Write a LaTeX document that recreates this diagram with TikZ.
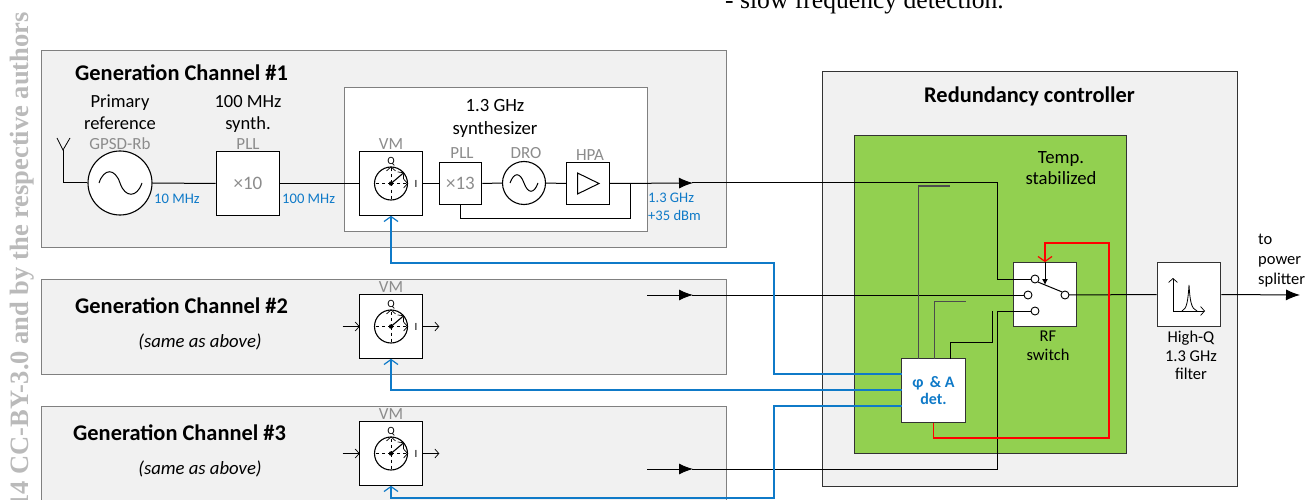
\documentclass[tikz,border=0pt]{standalone}
\usepackage{fontspec}
\setmainfont{Carlito}
\newfontfamily\serifmark{Liberation Serif}
\usetikzlibrary{arrows.meta}
\definecolor{panelgray}{HTML}{F1F1F1}
\definecolor{tempgreen}{HTML}{92D050}
\definecolor{linkblue}{HTML}{0F7AC8}
\definecolor{dimgray}{HTML}{8C8C8C}
\tikzset{
  panel/.style={draw=gray,fill=panelgray,line width=1pt},
  block/.style={draw=black,fill=white,line width=1.1pt,minimum size=63.5pt,inner sep=0pt},
  smallblock/.style={draw=black,fill=white,line width=1.1pt,minimum size=42.5pt,inner sep=0pt},
  tone/.style={circle,draw=black,fill=white,line width=1.1pt,inner sep=0pt},
  contact/.style={circle,draw=black,fill=white,line width=0.9pt,minimum size=8pt,inner sep=0pt},
  label/.style={font=\fontsize{18.7}{22}\selectfont,align=center,inner sep=0pt},
  dimlabel/.style={font=\fontsize{17}{20}\selectfont,text=dimgray,inner sep=0pt},
  freq/.style={font=\fontsize{14.6}{18}\selectfont,text=linkblue,align=left,inner sep=0pt},
  title/.style={font=\fontsize{22.4}{24}\selectfont\bfseries,inner sep=0pt},
  rf/.style={draw=black,line width=1pt},
  ctrl/.style={draw=linkblue,line width=1.4pt,-{Straight Barb[length=5pt,width=14pt,line width=1.2pt]}},
  feed/.style={draw=red,line width=1.4pt,-{Straight Barb[length=5pt,width=14pt,line width=1.2pt]}},
  head/.style={-{Latex[length=14pt,width=11pt]}},
  open/.style={-{Straight Barb[length=4pt,width=9pt,line width=0.7pt]}}
}
\begin{document}
\begin{tikzpicture}[x=1pt,y=-1pt]
  \clip (0,0) rectangle (1315,500);
  \fill[white] (0,0) rectangle (1315,500);

  % text cut off by the page
  \node[anchor=base west,inner sep=0pt,font=\serifmark\fontsize{25.6}{28}\selectfont] (sloweq) at (725,9) {- slow frequency detection.};
  \node[rotate=90,anchor=base east,inner sep=0pt,text=black!27,font=\serifmark\fontsize{26.5}{28}\selectfont\bfseries] (cc) at (28,12) {14 CC-BY-3.0 and by the respective authors};

  % channel panels
  \draw[panel] (41,51) rectangle (726,247);
  \draw[panel] (41,279) rectangle (726,374);
  \draw[panel] (41,406) rectangle (726,520);
  \draw[draw=gray,fill=white,line width=1pt] (344,88) rectangle (647,231);

  % redundancy controller
  \draw[fill=panelgray,draw=black!80,line width=1pt] (822,72) rectangle (1237,486);
  \draw[fill=tempgreen,draw=black!80,line width=1pt] (854,136) rectangle (1126,453);

  % channel 1 blocks
  \node[tone,minimum size=64pt] (ref) at (120,183) {};
  \node[block,text=dimgray,font=\fontsize{19}{24}\selectfont] (pll) at (248,183.5) {×10};
  \node[block] (vma) at (391,183.5) {};
  \node[smallblock,text=dimgray,font=\fontsize{19}{24}\selectfont] (mul) at (460.5,183.5) {×13};
  \node[tone,minimum size=43pt] (dro) at (524,183) {};
  \node[smallblock] (hpa) at (588,183.5) {};
  \node[block] (vmb) at (391,326.5) {};
  \node[block] (vmc) at (391,453.5) {};

  % switch, filter, detector
  \node[block,draw=black!80] (sw) at (1045,294.5) {};
  \node[block,draw=black!80] (filt) at (1189,294.5) {};
  \node[block,draw=black!80,align=center,text=linkblue,font=\fontsize{16}{17}\selectfont\bfseries] (det) at (933.5,390.5) {φ \,\& A\\det.};

  % free ends
  \coordinate (ant) at (63,150);
  \coordinate (tapa) at (630,183);
  \coordinate (outa) at (997,183);
  \coordinate (startb) at (647,295);
  \coordinate (startc) at (647,469);
  \coordinate (outc) at (997,469);
  \coordinate (out) at (1300,295);

  % signal path of channel 1
  \draw[rf] (ant)--(63,183)--(ref.west);
  \draw[rf,line width=0.8pt] (57,138)--(ant)--(70,138);
  \draw[rf] (ref.east)--(pll.west);
  \draw[rf] (pll.east)--(vma.west);
  \draw[rf] (vma.east)--(mul.west);
  \draw[rf] (mul.east)--(dro.west);
  \draw[rf] (dro.east)--(hpa.west);
  \draw[rf,head] (hpa.east)--(693,183);
  \draw[rf] (692,183)--(outa)--(997,279)--(1035,279);
  \draw[rf] (mul.south)--(460.5,218)--(630,218)--(tapa);

  % channels 2 and 3 into the switch
  \draw[rf,head] (startb)--(693,295);
  \draw[rf] (692,295)--(1028,295);
  \draw[rf,head] (startc)--(693,469);
  \draw[rf] (692,469)--(outc)--(997,311)--(1035,311);

  % output
  \draw[rf] (1065,295)--(filt.west);
  \draw[rf,head] (filt.east)--(out);

  % switch contacts
  \node[contact] (ca) at (1035,279) {};
  \node[contact] (cb) at (1028,295) {};
  \node[contact] (cc3) at (1035,311) {};
  \node[contact] (pole) at (1065,295) {};

  % inputs and outputs of VM 2 and 3
  \foreach \name in {vmb,vmc}{
    \draw[rf,open] (\name.west)++(-16,0)--++(17,0);
    \draw[rf,open] (\name.east)--++(16,0);
  }

  % VM dials
  \foreach \name in {vma,vmb,vmc}{
    \node[circle,draw=black,line width=1.1pt,minimum size=33pt,inner sep=0pt] (\name dial) at (\name) {};
    \draw[dashed,line width=0.7pt,open] (\name.center)--(\name dial.north);
    \draw[dashed,line width=0.7pt,open] (\name.center)--(\name dial.east);
    \draw[line width=1.1pt,open] (\name.center)--++(13,-11);
    \draw[line width=0.7pt,dashed] (\name.center)--(\name dial.south);
    \draw[line width=0.7pt,dashed] (\name.center)--(\name dial.west);
    \fill (\name.center) circle (2.2pt);
    \node[font=\fontsize{11}{12}\selectfont,inner sep=0pt] (\name q) at ([yshift=22pt]\name.center) {Q};
    \node[font=\fontsize{11}{12}\selectfont,inner sep=0pt] (\name i) at ([xshift=25pt]\name.center) {I};
  }

  % sine waves
  \draw[line width=1pt] (99,183) .. controls (104,168) and (115,168) .. (120,183) .. controls (125,198) and (137,198) .. (142,183);
  \draw[line width=1pt] (510,183) .. controls (514,172) and (520,172) .. (524,183) .. controls (528,194) and (534,194) .. (538,183);

  % amplifier and filter glyphs
  \draw[line width=1pt] (577.5,173)--(599,183.5)--(577.5,194)--cycle;
  \draw[open,line width=0.8pt] (1173,311)--(1173,278);
  \draw[open,line width=0.8pt] (1173,311)--(1205,311);
  \draw[line width=0.8pt] (1182,311) .. controls (1187,309) and (1188,300) .. (1189,285) .. controls (1190,300) and (1191,309) .. (1197,311);

  % switch arm and its control
  \draw[line width=1pt] (ca.south east)--(pole.north west);
  \draw[line width=1pt,-{Latex[length=6pt,width=6pt]}] (sw.north)--(1045,285);

  % couplers to the detector
  \draw[draw=black!70,line width=1pt] (918,359)--(918,186)--(950,186);
  \draw[draw=black!70,line width=1pt] (934,359)--(934,301)--(966,301);
  \draw[draw=black,line width=1pt] (950,359)--(950,342)--(992,342)--(992,311);

  % detector outputs
  \draw[ctrl] (902,374)--(774,374)--(774,263)--(391,263)--(vma.south);
  \draw[ctrl] (902,390)--(391,390)--(vmb.south);
  \draw[ctrl] (902,406)--(774,406)--(774,498)--(391,498)--(vmc.south);
  \draw[feed] (det.south)--(933.5,438)--(1109,438)--(1109,243)--(1045,243)--(sw.north);

  % texts
  \node[title,anchor=west] (titlea) at (75,73) {Generation Channel \#1};
  \node[title,anchor=west] (titleb) at (75,306) {Generation Channel \#2};
  \node[title,anchor=west] (titlec) at (73,433) {Generation Channel \#3};
  \node[label,font=\fontsize{18.7}{20}\selectfont\itshape] (sameb) at (200,342) {(same as above)};
  \node[label,font=\fontsize{18.7}{20}\selectfont\itshape] (samec) at (200,469) {(same as above)};
  \node[label,anchor=north,font=\fontsize{18.5}{22}\selectfont] (prim) at (120,95) {Primary\\reference};
  \node[label,anchor=north,font=\fontsize{18.5}{22}\selectfont] (synth) at (248,95) {100 MHz\\synth.};
  \node[label,anchor=north,font=\fontsize{18.7}{23}\selectfont] (ghz) at (495,99) {1.3 GHz\\synthesizer};
  \node[dimlabel] (gpsd) at (120,144) {GPSD-Rb};
  \node[dimlabel] (pllt) at (248,144) {PLL};
  \node[dimlabel] (vmat) at (391,144) {VM};
  \node[dimlabel] (vmbt) at (391,287) {VM};
  \node[dimlabel] (vmct) at (391,414) {VM};
  \node[dimlabel] (mult) at (462,153) {PLL};
  \node[dimlabel] (drot) at (526,153) {DRO};
  \node[dimlabel] (hpat) at (590,155) {HPA};
  \node[freq,anchor=west] (fa) at (154,199) {10 MHz};
  \node[freq,anchor=west] (fb) at (282,199) {100 MHz};
  \node[freq,anchor=north west] (fc) at (648,193) {1.3 GHz\\+35 dBm};
  \node[label,font=\fontsize{22.4}{24}\selectfont\bfseries] (red) at (1029.5,96) {Redundancy controller};
  \node[label,anchor=north,font=\fontsize{18.7}{21}\selectfont] (temp) at (1061,151) {Temp.\\stabilized};
  \node[label,anchor=north,font=\fontsize{16.5}{18.5}\selectfont] (swt) at (1048,331) {RF\\switch};
  \node[label,anchor=north,font=\fontsize{16.5}{18.5}\selectfont] (filtt) at (1191,331) {High-Q\\1.3 GHz\\filter};
  \node[label,anchor=north west,align=left,font=\fontsize{16.5}{20}\selectfont] (powr) at (1258,234) {to\\power\\splitter};
\end{tikzpicture}
\end{document}
